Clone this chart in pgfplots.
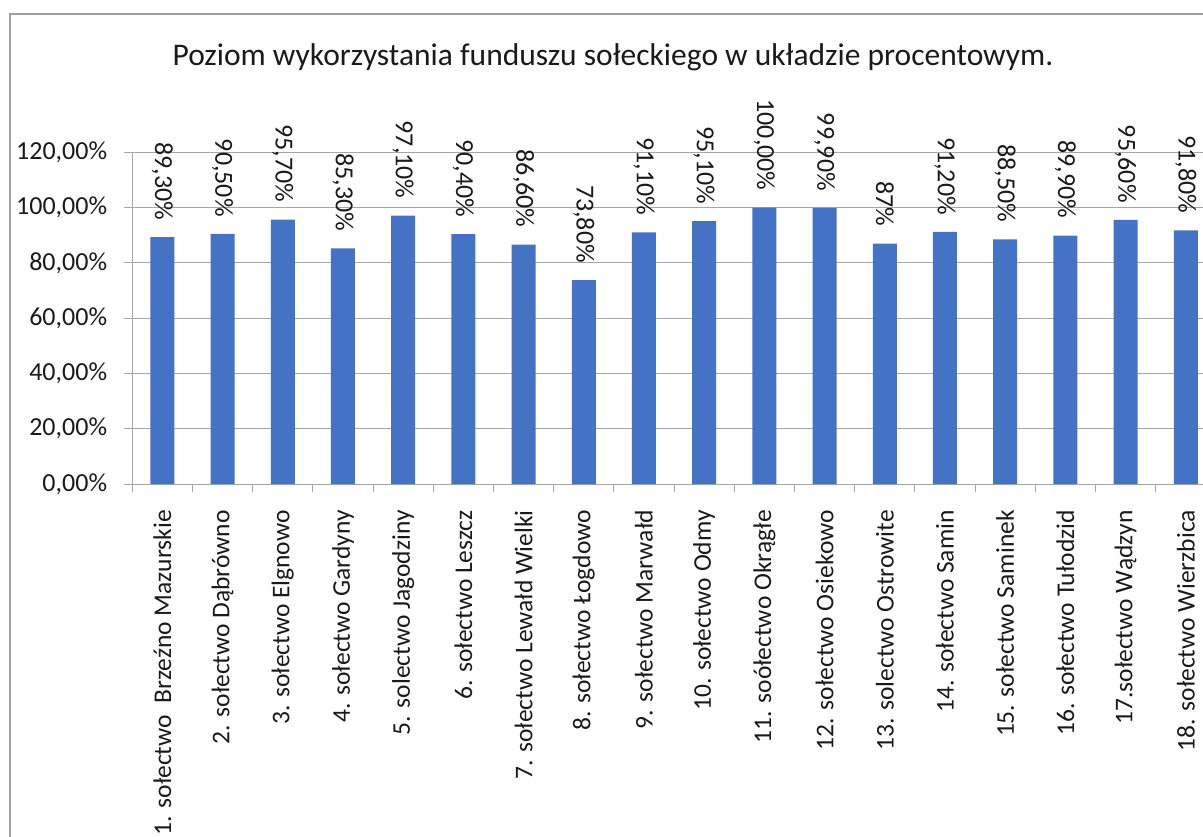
\documentclass[border=0pt]{standalone}
\usepackage{fontspec}
\setmainfont{Carlito}
\usepackage{pgfplots}
\usepackage{pgfplotstable}
\pgfplotsset{compat=1.18}

\definecolor{barblue}{HTML}{4472C4}
\definecolor{gridgray}{HTML}{A6A6A6}
\definecolor{framegray}{HTML}{A0A0A0}
\definecolor{labeltext}{HTML}{1A1A1A}

% wykorzystanie funduszu w procentach, etykieta bez znaku %
\pgfplotstableread{
x y lab
0 89.3 89,30
1 90.5 90,50
2 95.7 95,70
3 85.3 85,30
4 97.1 97,10
5 90.4 90,40
6 86.6 86,60
7 73.8 73,80
8 91.1 91,10
9 95.1 95,10
10 100.0 100,00
11 99.9 99,90
12 87.0 87
13 91.2 91,20
14 88.5 88,50
15 89.9 89,90
16 95.6 95,60
17 91.8 91,80
}\fundusz

\begin{document}
\begin{tikzpicture}
\begin{scope}
\clip (0pt,0pt) rectangle (1203pt,-837pt);
\draw[framegray, line width=1.5pt] (10pt,-900pt) -- (10pt,-14pt) -- (1300pt,-14pt);
\begin{axis}[
    at={(132.3pt,-484pt)}, anchor=south west,
    scale only axis,
    width=1083.6pt, height=331.6pt,
    xmin=-0.5, xmax=17.5,
    ymin=0, ymax=120,
    clip=false,
    ybar, bar width=24pt,
    axis x line*=bottom, axis y line*=left,
    axis line style={-, draw=gridgray, line width=1pt},
    ymajorgrids, grid style={gridgray, line width=1pt},
    tick align=outside,
    major tick length=8pt, minor tick length=8pt,
    ytick={0,20,...,120},
    yticklabels={{0,00\%},{20,00\%},{40,00\%},{60,00\%},{80,00\%},{100,00\%},{120,00\%}},
    ytick style={draw=gridgray, line width=1pt},
    xtick={0,...,17},
    xtick style={draw=none},
    minor xtick={-0.5,0.5,...,17.5},
    minor x tick style={draw=gridgray, line width=1pt},
    xticklabels={
        {1. sołectwo\ \ Brzeźno Mazurskie},
        {2. sołectwo Dąbrówno},
        {3. sołectwo Elgnowo},
        {4. sołectwo Gardyny},
        {5. solectwo Jagodziny},
        {6. sołectwo Leszcz},
        {7. sołectwo Lewałd Wielki},
        {8. sołectwo Łogdowo},
        {9. sołectwo Marwałd},
        {10. sołectwo Odmy},
        {11. soółectwo Okrągłe},
        {12. sołectwo Osiekowo},
        {13. solectwo Ostrowite},
        {14. sołectwo Samin},
        {15. sołectwo Saminek},
        {16. sołectwo Tułodzid},
        {17.sołectwo Wądzyn},
        {18. sołectwo Wierzbica}},
    xticklabel style={rotate=90, anchor=east, inner xsep=18pt, inner ysep=0pt,
        font=\fontsize{25.5}{30}\selectfont, text=labeltext},
    yticklabel style={anchor=east, inner xsep=0pt, xshift=-17pt,
        font=\fontsize{26}{30}\selectfont, text=labeltext},
    title={Poziom wykorzystania funduszu sołeckiego w układzie procentowym.},
    title style={at={(0.4436,1.2434)}, anchor=base,
        font=\fontsize{31.5}{36}\selectfont, text=labeltext},
    point meta=explicit symbolic,
    nodes near coords={\pgfplotspointmeta\%},
    every node near coord/.append style={rotate=-90, anchor=east,
        inner xsep=17pt, inner ysep=0pt,
        font=\fontsize{26}{30}\selectfont, text=labeltext},
]
\addplot[fill=barblue, draw=none] table[x=x, y=y, meta=lab] {\fundusz};
\end{axis}
\end{scope}
\pgfresetboundingbox
\path[use as bounding box] (0pt,0pt) rectangle (1203pt,-837pt);
\end{tikzpicture}
\end{document}
